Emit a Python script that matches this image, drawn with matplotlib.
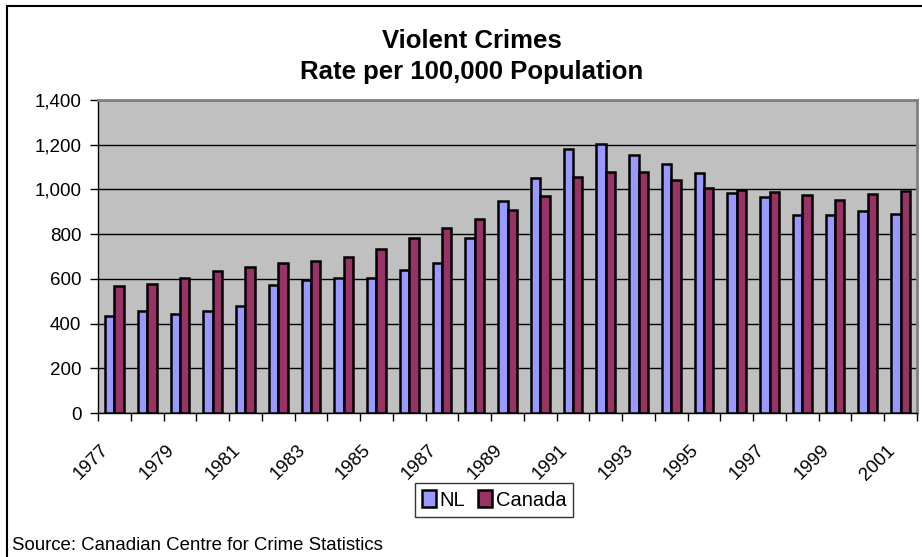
import numpy as np
import matplotlib
matplotlib.use("Agg")
import matplotlib.pyplot as plt
from matplotlib.patches import Rectangle
from matplotlib.ticker import FuncFormatter
from matplotlib.transforms import ScaledTranslation

plt.rcParams["font.family"] = ["Liberation Sans", "DejaVu Sans"]

YEARS = list(range(1977, 2002))
NL = [434, 458, 443, 455, 479, 573, 597, 606, 604, 640, 670, 783, 948,
      1052, 1182, 1204, 1156, 1115, 1073, 984, 967, 887, 887, 902, 890]
CANADA = [568, 579, 606, 635, 652, 670, 679, 699, 732, 783, 826, 868, 909,
          972, 1057, 1080, 1077, 1043, 1006, 997, 990, 976, 952, 979, 991]

W, H = 922, 557
fig = plt.figure(figsize=(W / 100, H / 100), dpi=100)
ax = fig.add_axes([98 / W, 1 - 413 / H, (917 - 98) / W, (413 - 100) / H])

x = np.arange(len(YEARS))
bw = 0.286
ax.bar(x - bw / 2, NL, bw, color="#9999FF", edgecolor="black", lw=1.8,
       label="NL", zorder=3)
ax.bar(x + bw / 2, CANADA, bw, color="#993366", edgecolor="black", lw=1.8,
       label="Canada", zorder=3)

ax.set_facecolor("#C0C0C0")
ax.set_xlim(-0.5, len(YEARS) - 0.5)
ax.set_ylim(0, 1400)
ax.set_yticks(range(0, 1401, 200))
ax.yaxis.set_major_formatter(FuncFormatter(lambda v, p: f"{int(v):,}"))
ax.grid(True, axis="y", color="black", lw=1, zorder=1)
ax.tick_params(axis="y", length=6, width=1, labelsize=13.5, pad=6)

# labels at category centres, tick marks at boundaries
ax.set_xticks(x[::2])
ax.set_xticklabels([str(y) for y in YEARS[::2]], rotation=45, ha="right",
                   va="center", rotation_mode="anchor", fontsize=13.5)
ax.tick_params(axis="x", which="major", length=0, pad=25)
ax.set_xticks(np.arange(-0.5, len(YEARS), 1), minor=True)
ax.tick_params(axis="x", which="minor", length=6, width=1)
shift = ScaledTranslation(-8 / 100, 0, fig.dpi_scale_trans)
for lab in ax.get_xticklabels():
    lab.set_transform(lab.get_transform() + shift)

for s in ["top", "right"]:
    ax.spines[s].set_color("#808080")
    ax.spines[s].set_linewidth(2)
for s in ["left", "bottom"]:
    ax.spines[s].set_color("black")
    ax.spines[s].set_linewidth(1)

fig.text(472 / W, 1 - 48 / H, "Violent Crimes", ha="center", va="baseline",
         fontsize=18.5, fontweight="bold")
fig.text(472 / W, 1 - 79 / H, "Rate per 100,000 Population", ha="center",
         va="baseline", fontsize=18.5, fontweight="bold")

leg = fig.legend(loc="center", bbox_to_anchor=(494 / W, 1 - 500 / H), ncol=2,
                 fontsize=14.5, frameon=True, fancybox=False, edgecolor="black",
                 handlelength=0.7, handleheight=0.9, handletextpad=0.2,
                 columnspacing=0.6, borderpad=0.35)
leg.get_frame().set_linewidth(1)

fig.text(12 / W, 1 - 550 / H, "Source: Canadian Centre for Crime Statistics",
         ha="left", va="baseline", fontsize=13.4)

fig.patches.append(Rectangle((7 / W, -0.1), 1.2, 1.1 - 6 / H,
                             transform=fig.transFigure, fill=False,
                             edgecolor="black", lw=1.5))

fig.savefig("out.png", dpi=100)
